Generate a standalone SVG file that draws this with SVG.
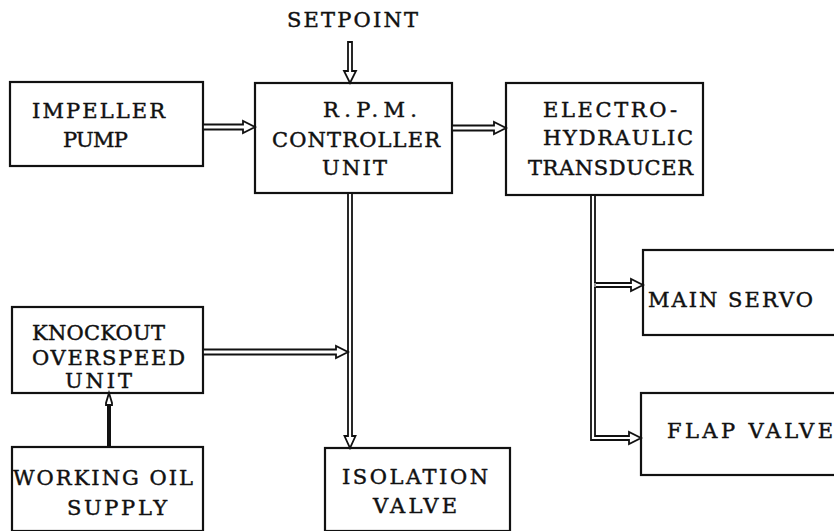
<svg xmlns="http://www.w3.org/2000/svg" width="834" height="531" viewBox="0 0 834 531">
<style>
.box{fill:none;stroke:#111;stroke-width:2.2}
.t{font-family:"DejaVu Serif","Liberation Serif",serif;font-size:21px;fill:#111;stroke:#111;stroke-width:0.45}
.arr{fill:#fff;stroke:#111;stroke-width:1.8;stroke-linejoin:miter}
.solid{fill:none;stroke:#111;stroke-width:4}
</style>
<rect width="834" height="531" fill="#fff"/>
<g id="setpoint"><text class="t" x="287" y="27" textLength="131" lengthAdjust="spacing">SETPOINT</text></g>
<g id="impeller-pump"><rect class="box" x="10" y="82" width="193" height="84"/><text class="t" x="32" y="118" textLength="133" lengthAdjust="spacing">IMPELLER</text><text class="t" x="63" y="147" textLength="65" lengthAdjust="spacing">PUMP</text></g>
<g id="rpm-controller"><rect class="box" x="255" y="83" width="197" height="110"/><text class="t" x="323" y="117" textLength="94" lengthAdjust="spacing">R.P.M.</text><text class="t" x="272" y="147" textLength="168" lengthAdjust="spacing">CONTROLLER</text><text class="t" x="322" y="175" textLength="65" lengthAdjust="spacing">UNIT</text></g>
<g id="eh-transducer"><rect class="box" x="506" y="83" width="197" height="112"/><text class="t" x="543" y="117" textLength="134" lengthAdjust="spacing">ELECTRO-</text><text class="t" x="543" y="145" textLength="150" lengthAdjust="spacing">HYDRAULIC</text><text class="t" x="528" y="175" textLength="165" lengthAdjust="spacing">TRANSDUCER</text></g>
<g id="knockout"><rect class="box" x="12" y="307" width="191" height="86"/><text class="t" x="32" y="340" textLength="133" lengthAdjust="spacing">KNOCKOUT</text><text class="t" x="32" y="365" textLength="153" lengthAdjust="spacing">OVERSPEED</text><text class="t" x="65" y="388" textLength="67" lengthAdjust="spacing">UNIT</text></g>
<g id="working-oil"><rect class="box" x="12" y="447" width="191" height="84"/><text class="t" x="13" y="485" textLength="180" lengthAdjust="spacing">WORKING OIL</text><text class="t" x="67" y="515" textLength="100" lengthAdjust="spacing">SUPPLY</text></g>
<g id="isolation-valve"><rect class="box" x="325" y="448" width="185" height="83"/><text class="t" x="342" y="484" textLength="146" lengthAdjust="spacing">ISOLATION</text><text class="t" x="373" y="513" textLength="84" lengthAdjust="spacing">VALVE</text></g>
<g id="main-servo"><rect class="box" x="643" y="250" width="200" height="85"/><text class="t" x="648" y="307" textLength="165" lengthAdjust="spacing">MAIN SERVO</text></g>
<g id="flap-valve"><rect class="box" x="641" y="393" width="200" height="82"/><text class="t" x="667" y="438" textLength="166" lengthAdjust="spacing">FLAP VALVE</text></g>
<g id="connectors">
<polygon class="arr" points="348,42 352,42 352,71 356,71 350,83 344,71 348,71"/>
<polygon class="arr" points="203,124.5 243,124.5 243,121 255,127 243,133 243,129.5 203,129.5"/>
<polygon class="arr" points="452,125.5 494,125.5 494,122 506,128 494,134 494,130.5 452,130.5"/>
<polygon class="arr" points="348,193 348,436 344.5,436 350,448 355.5,436 352,436 352,193"/>
<polygon class="arr" points="203,349.5 336,349.5 336,346 348,352 336,358 336,354.5 203,354.5"/>
<line class="solid" x1="109" y1="447" x2="109" y2="405"/>
<polygon class="arr" points="106,405 112,405 112,403 109,393 106,403"/>
<polygon class="arr" points="591,195 591,440 629,440 629,444 641,438 629,432 629,436 595,436 595,195"/>
<polygon class="arr" points="595,283 631,283 631,279 643,285 631,291 631,287 595,287"/>
<line x1="595" y1="283" x2="595" y2="287" stroke="#fff" stroke-width="1"/>
</g>
</svg>
